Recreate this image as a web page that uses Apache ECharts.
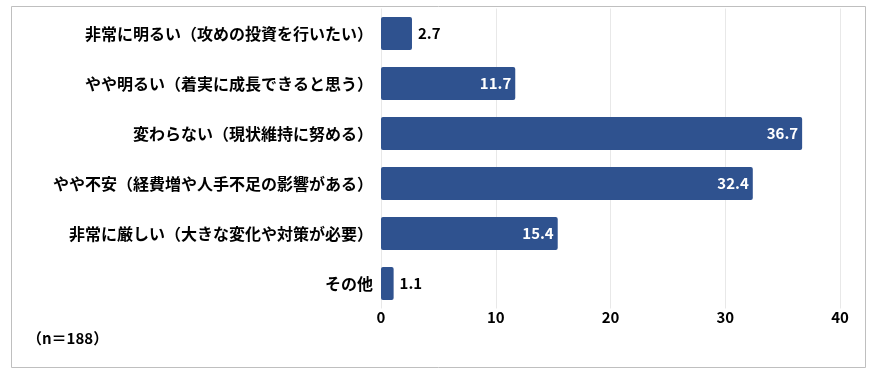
<!DOCTYPE html>
<html><head><meta charset="utf-8">
<script src="https://cdn.jsdelivr.net/npm/echarts@6/dist/echarts.min.js"></script>
<style>html,body{margin:0;padding:0;background:#fff}#c{width:871px;height:373px}</style>
</head><body><div id="c"></div>
<script>
const categories = [
  "非常に明るい（攻めの投資を行いたい）",
  "やや明るい（着実に成長できると思う）",
  "変わらない（現状維持に努める）",
  "やや不安（経費増や人手不足の影響がある）",
  "非常に厳しい（大きな変化や対策が必要）",
  "その他"
];
const values = [2.7, 11.7, 36.7, 32.4, 15.4, 1.1];
const xTicks = [0, 10, 20, 30, 40];
const note = "（n＝188）";

const font = "'Noto Sans CJK JP', 'Noto Sans', sans-serif";
const chart = echarts.init(document.getElementById('c'), null, {renderer: 'canvas'});
chart.setOption({
  animation: false,
  backgroundColor: '#fff',
  graphic: [
    {type: 'rect', shape: {x: 11.5, y: 6.5, width: 854, height: 361}, style: {fill: 'none', stroke: '#bfbfbf', lineWidth: 1}},
    {type: 'text', left: 27, top: 331, style: {text: note, font: "bold 15px " + font, fill: '#000'}}
  ],
  grid: {left: 381, right: 31, top: 8.5, bottom: 64.5},
  xAxis: {
    type: 'value', min: xTicks[0], max: xTicks[xTicks.length - 1], interval: 10,
    axisLine: {show: false}, axisTick: {show: false},
    splitLine: {lineStyle: {color: '#e8e8e8', width: 1}},
    axisLabel: {color: '#000', fontSize: 15, fontWeight: 'bold', fontFamily: font, margin: 1}
  },
  yAxis: {
    type: 'category', data: categories, inverse: true,
    axisLine: {show: false}, axisTick: {show: false},
    axisLabel: {color: '#000', fontSize: 16, fontWeight: 'bold', fontFamily: font, margin: 8}
  },
  series: [{
    type: 'bar', barWidth: 33,
    itemStyle: {color: '#2f528f', borderRadius: 2},
    data: values.map(v => ({
      value: v,
      label: v < 5
        ? {show: true, position: 'right', color: '#000', distance: 6}
        : {show: true, position: 'insideRight', color: '#fff', distance: 4}
    })),
    label: {fontSize: 15, fontWeight: 'bold', fontFamily: font, formatter: p => p.value.toFixed(1)}
  }]
});
</script></body></html>
